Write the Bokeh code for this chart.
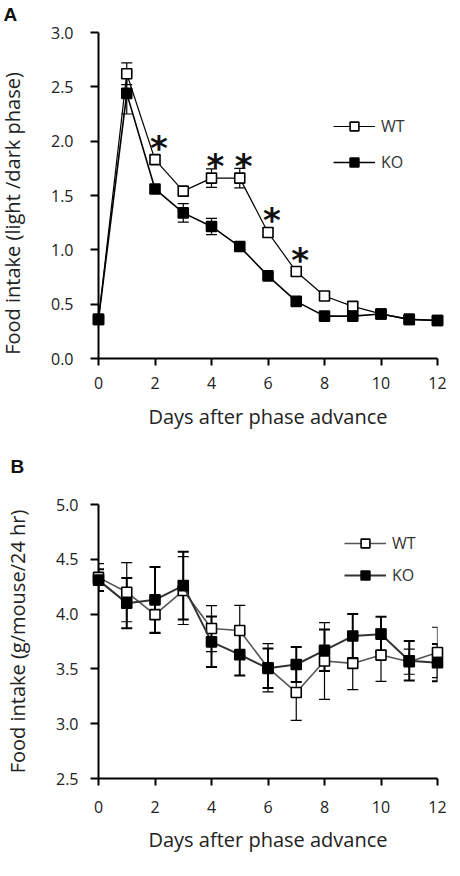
import math
from bokeh.plotting import figure
from bokeh.layouts import column
from bokeh.models import ColumnDataSource, Whisker, TeeHead, FixedTicker, PrintfTickFormatter
from bokeh.core.properties import value
from bokeh.embed import file_html
from bokeh.resources import INLINE

# ---------------- data ----------------
days = list(range(13))
x_ticks = [0, 2, 4, 6, 8, 10, 12]
a_y_ticks = [0.0, 0.5, 1.0, 1.5, 2.0, 2.5, 3.0]
b_y_ticks = [2.5, 3.0, 3.5, 4.0, 4.5, 5.0]
series_names = ["WT", "KO"]

# Panel A: light/dark phase food intake ratio
wt_a = [0.36, 2.62, 1.83, 1.54, 1.66, 1.66, 1.16, 0.80, 0.575, 0.48, 0.41, 0.36, 0.35]
wt_a_err = [0.03, 0.10, 0.04, 0.04, 0.085, 0.09, 0.04, 0.04, 0.03, 0.03, 0.03, 0.02, 0.02]
ko_a = [0.36, 2.44, 1.56, 1.34, 1.215, 1.03, 0.76, 0.526, 0.39, 0.39, 0.41, 0.36, 0.35]
ko_a_err = [0.03, 0.19, 0.03, 0.085, 0.075, 0.03, 0.03, 0.03, 0.02, 0.02, 0.02, 0.03, 0.03]
sig_days = [2, 4, 5, 6, 7]

# Panel B: daily food intake (g/mouse/24 hr)
wt_b = [4.335, 4.20, 3.995, 4.215, 3.868, 3.85, 3.51, 3.285, 3.572, 3.55, 3.626, 3.566, 3.65]
wt_b_err = [0.125, 0.27, 0.17, 0.31, 0.21, 0.23, 0.22, 0.255, 0.35, 0.24, 0.24, 0.115, 0.23]
ko_b = [4.31, 4.10, 4.13, 4.26, 3.747, 3.63, 3.505, 3.54, 3.67, 3.80, 3.816, 3.575, 3.557]
ko_b_err = [0.10, 0.23, 0.30, 0.31, 0.23, 0.19, 0.18, 0.16, 0.19, 0.20, 0.16, 0.18, 0.17]

FONT = "Open Sans"
TXT = "#222222"


def style(p, y_ticks, ylabel, y_standoff, ylab_standoff, x_standoff, xlab_standoff):
    p.xgrid.visible = False
    p.ygrid.visible = False
    p.outline_line_color = None
    p.xaxis.ticker = FixedTicker(ticks=x_ticks)
    p.yaxis.ticker = FixedTicker(ticks=y_ticks)
    p.yaxis.formatter = PrintfTickFormatter(format="%.1f")
    for ax in (p.xaxis[0], p.yaxis[0]):
        ax.axis_line_width = 2
        ax.axis_line_color = "black"
        ax.major_tick_line_width = 2
        ax.major_tick_line_color = "black"
        ax.major_tick_in = 0
        ax.major_tick_out = 7
        ax.minor_tick_line_color = None
        ax.major_label_text_font = FONT
        ax.major_label_text_font_size = "16px"
        ax.major_label_text_color = TXT
        ax.axis_label_text_font = FONT
        ax.axis_label_text_font_size = "20px"
        ax.axis_label_text_font_style = "normal"
        ax.axis_label_text_color = TXT
    p.yaxis.major_tick_out = 8
    p.xaxis.axis_label = "Days after phase advance"
    if ylabel is not None:
        p.yaxis.axis_label = ylabel
    p.yaxis.major_label_standoff = y_standoff
    p.yaxis.axis_label_standoff = ylab_standoff
    p.xaxis.major_label_standoff = x_standoff
    p.xaxis.axis_label_standoff = xlab_standoff


def panel_letter(p, letter, x0, y0, dx, dy):
    # bold panel letter placed in screen pixels relative to the frame's top-left corner
    p.text(x=[x0], y=[y0], text=[letter], text_font=value("Liberation Sans"),
           text_font_style="bold", text_font_size="19px", text_color="#111111",
           text_align="left", text_baseline="alphabetic",
           x_offset=dx, y_offset=dy, level="overlay")


def add_series(p, mean, err, name, fill, line_color, lw, err_lw, size):
    src = ColumnDataSource(dict(x=days, y=mean,
                                upper=[m + e for m, e in zip(mean, err)],
                                lower=[m - e for m, e in zip(mean, err)]))
    w = Whisker(source=src, base="x", upper="upper", lower="lower",
                line_color="black", line_width=err_lw, level="annotation",
                upper_head=TeeHead(size=11, line_color="black", line_width=err_lw),
                lower_head=TeeHead(size=11, line_color="black", line_width=err_lw))
    p.add_layout(w)
    p.line("x", "y", source=src, line_color=line_color, line_width=lw,
           legend_label=name, level="overlay")
    p.scatter("x", "y", source=src, marker="square", size=size, fill_color=fill,
              line_color="black", line_width=1.6, legend_label=name, level="overlay")


def legend_style(p, loc, spacing):
    lg = p.legend[0]
    lg.location = loc
    lg.border_line_color = None
    lg.background_fill_alpha = 0
    lg.glyph_width = 42
    lg.glyph_height = 22
    lg.spacing = spacing
    lg.padding = 10
    lg.margin = 0
    lg.label_standoff = 6
    lg.label_text_font = FONT
    lg.label_text_font_size = "16px"
    lg.label_text_color = "#333333"


# ---------------- panel A ----------------
pa = figure(width=452, height=432, x_range=(0, 12), y_range=(0, 3),
            output_backend="svg", toolbar_location=None,
            min_border_left=96, min_border_right=15, min_border_top=32, min_border_bottom=73)
style(pa, a_y_ticks, None, 17, 24, 11, 11)
add_series(pa, wt_a, wt_a_err, series_names[0], "white", "black", 1.2, 1.2, 10)
add_series(pa, ko_a, ko_a_err, series_names[1], "black", "black", 1.6, 1.2, 10)
pa.text(x=sig_days, y=[wt_a[d] for d in sig_days], text=["*"] * len(sig_days),
        text_font=value("DejaVu Sans"), text_font_style="bold", text_font_size="34px",
        text_color="#111111", text_align="center", text_baseline="middle",
        x_offset=4, y_offset=-12, level="overlay")
# y-axis title of panel A (sits a little below the frame centre, as in the original)
pa.text(x=[x_ticks[0]], y=[a_y_ticks[0]], text=["Food intake (light /dark phase)"],
        angle=math.pi / 2, text_font=value(FONT), text_font_size="20px",
        text_color=TXT, text_align="center", text_baseline="middle",
        x_offset=-86, y_offset=-145, level="overlay")
panel_letter(pa, "A", x_ticks[0], a_y_ticks[-1], -95, -18)
legend_style(pa, (235, 185), 14)

# ---------------- panel B ----------------
pb = figure(width=452, height=423, x_range=(0, 12), y_range=(2.5, 5.0),
            output_backend="svg", toolbar_location=None,
            min_border_left=92, min_border_right=15, min_border_top=72, min_border_bottom=75)
style(pb, b_y_ticks, "Food intake (g/mouse/24 hr)", 12, 22, 15, 10)
add_series(pb, wt_b, wt_b_err, series_names[0], "white", "#555555", 1.6, 1.2, 10)
add_series(pb, ko_b, ko_b_err, series_names[1], "black", "#333333", 2.0, 2.0, 10)
panel_letter(pb, "B", x_ticks[0], b_y_ticks[-1], -88, -38)
legend_style(pb, (246, 192), 10)

layout = column(pa, pb, spacing=0)
open("out.html", "w").write(file_html(layout, INLINE))
